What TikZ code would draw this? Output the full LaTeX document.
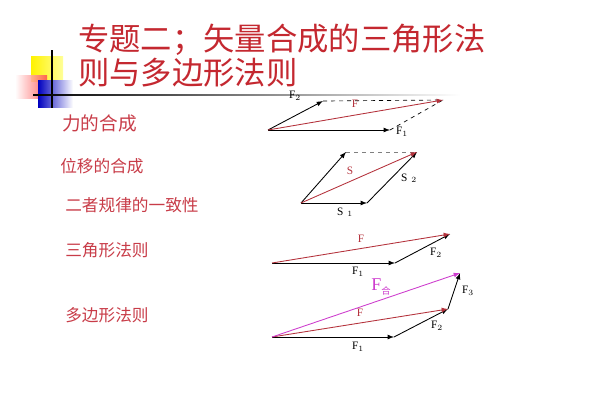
\documentclass[tikz,border=0pt]{standalone}
\usepackage{fontspec}
\setmainfont{Liberation Serif}
\newfontfamily\cjk{Noto Sans CJK SC}
\usepackage{tikz}
\usetikzlibrary{shadings}

\definecolor{titlered}{RGB}{196,40,48}
\definecolor{labelred}{RGB}{200,60,72}
\definecolor{vecred}{RGB}{180,50,60}
\definecolor{vecpink}{RGB}{205,60,205}

\tikzset{
  vec/.style={-latex, line width=0.65pt},
  aux/.style={dashed, line width=0.5pt},
  veclabel/.style={inner sep=0pt, font=\fontsize{8.5}{8.5}\selectfont},
  cnlabel/.style={anchor=west, inner sep=0pt, text=labelred, font=\cjk\fontsize{12.5}{12.5}\selectfont},
}

\begin{document}
\begin{tikzpicture}[x=0.75pt, y=-0.75pt]
    \useasboundingbox (0,0) rectangle (600,400);

    % 标题装饰
    \shade[left color=yellow!90!orange, right color=yellow!40] (31,56) rectangle (63,81);
    \shade[left color=white, right color=red!70, opacity=0.85] (15,75) rectangle (47,98);
    \shade[left color=blue!75!black, right color=white] (38,80) rectangle (73,107);
    \draw[line width=0.8pt] (52,50) -- (52,108);
    \shade[left color=black, middle color=black!55, right color=white] (33,94.4) rectangle (460,95.6);

    % 标题
    \node[anchor=west, inner sep=0pt, text=titlered, font=\cjk\fontsize{23.5}{23.5}\selectfont] (title1) at (78,40) {专题二；矢量合成的三角形法};
    \node[anchor=west, inner sep=0pt, text=titlered, font=\cjk\fontsize{23.5}{23.5}\selectfont] (title2) at (78,73) {则与多边形法则};

    % 左侧文字
    \node[cnlabel, font=\cjk\fontsize{14}{14}\selectfont] (force) at (62,123) {力的合成};
    \node[cnlabel] (disp) at (60,166) {位移的合成};
    \node[cnlabel] (same) at (65,205) {二者规律的一致性};
    \node[cnlabel] (tri) at (65,250) {三角形法则};
    \node[cnlabel] (poly) at (65,315) {多边形法则};

    % 力的平行四边形
    \coordinate (oa) at (268,130);
    \coordinate (fa1) at (390,130);
    \coordinate (fa2) at (323,101);
    \coordinate (fa) at (443,100);
    \draw[aux] (fa2) -- (fa);
    \draw[aux] (fa1) -- (fa);
    \draw[vec] (oa) -- (fa1);
    \draw[vec] (oa) -- (fa2);
    \draw[vec, vecred] (oa) -- (fa);
    \node[veclabel] (la2) at (295,96) {F$_2$};
    \node[veclabel] (la1) at (402,132) {F$_1$};
    \node[veclabel, text=vecred] (la) at (355,104) {F};

    % 位移的平行四边形
    \coordinate (ob) at (301,203);
    \coordinate (sb1) at (367,203);
    \coordinate (sb2) at (346,152);
    \coordinate (sb) at (417,152);
    \draw[aux, gray] (sb2) -- (sb);
    \draw[vec] (ob) -- (sb2);
    \draw[vec] (ob) -- (sb1);
    \draw[vec] (sb1) -- (sb);
    \draw[vec, vecred] (ob) -- (sb);
    \node[veclabel, text=vecred] (ls) at (350,171) {S};
    \node[veclabel] (ls2) at (409,178) {S\,\,$_2$};
    \node[veclabel] (ls1) at (345,212) {S\,\,$_1$};

    % 三角形法则
    \coordinate (oc) at (272,263);
    \coordinate (fc1) at (395,263);
    \coordinate (fc) at (450,234);
    \draw[vec] (oc) -- (fc1);
    \draw[vec] (fc1) -- (fc);
    \draw[vec, vecred] (oc) -- (fc);
    \node[veclabel, text=vecred] (lc) at (361,239) {F};
    \node[veclabel] (lc2) at (436,253) {F$_2$};
    \node[veclabel] (lc1) at (358,272) {F$_1$};

    % 多边形法则
    \coordinate (od) at (272,337);
    \coordinate (fd1) at (394,337);
    \coordinate (fd2) at (448,309);
    \coordinate (fd) at (460,273);
    \draw[vec] (od) -- (fd1);
    \draw[vec] (fd1) -- (fd2);
    \draw[vec] (fd2) -- (fd);
    \draw[vec, vecred] (od) -- (fd2);
    \draw[vec, vecpink] (od) -- (fd);
    \node[inner sep=0pt, text=vecpink, font=\fontsize{13.5}{13.5}\selectfont] (lsum) at (381,287) {F{\cjk\fontsize{7}{7}\selectfont\raisebox{-3pt}{合}}};
    \node[veclabel, text=vecred] (ld) at (360,313) {F};
    \node[veclabel] (ld3) at (468,291) {F$_3$};
    \node[veclabel] (ld2) at (437,326) {F$_2$};
    \node[veclabel] (ld1) at (358,347) {F$_1$};
\end{tikzpicture}
\end{document}
